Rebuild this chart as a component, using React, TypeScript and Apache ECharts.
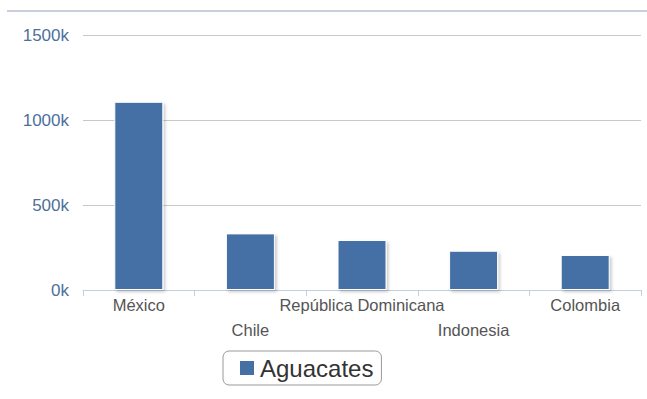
import React, { useEffect, useRef } from "react";
import * as echarts from "echarts";

const categories = ["México", "Chile", "República Dominicana", "Indonesia", "Colombia"];
const seriesName = "Aguacates";
const values = [1107000, 333000, 294000, 231000, 206000];
const yTicks = [0, 500000, 1000000, 1500000];

export default function App() {
  const ref = useRef<HTMLDivElement>(null);
  useEffect(() => {
    if (!ref.current) return;
    const chart = echarts.init(ref.current, undefined, { renderer: "svg" });
    chart.setOption({
      animation: false,
      backgroundColor: "#fff",
      textStyle: { fontFamily: "Liberation Sans, Arial, sans-serif" },
      graphic: [
        {
          type: "line",
          shape: { x1: 7, y1: 11, x2: 647, y2: 11 },
          style: { stroke: "#b4c0cf", lineWidth: 1.5 },
        },
      ],
      grid: { left: 83, right: 6, top: 35, bottom: 109 },
      legend: {
        data: [seriesName],
        left: 223,
        top: 351,
        padding: [5, 8, 5, 15],
        borderColor: "#999",
        borderWidth: 1,
        borderRadius: 6,
        icon: "rect",
        itemWidth: 16,
        itemHeight: 16,
        textStyle: { fontSize: 24, color: "#333" },
      },
      xAxis: {
        type: "category",
        data: categories,
        axisLine: { lineStyle: { color: "#c0d0e0", width: 1 } },
        axisTick: { show: true, length: 6, lineStyle: { color: "#c0d0e0" } },
        axisLabel: {
          interval: 0,
          fontSize: 16.5,
          color: "#555",
          margin: 2,
          lineHeight: 25,
          formatter: (v: string, i: number) => (i % 2 === 1 ? "\n" + v : v),
        },
      },
      yAxis: {
        type: "value",
        min: yTicks[0],
        max: yTicks[yTicks.length - 1],
        interval: 500000,
        axisLine: { show: false },
        axisTick: { show: false },
        splitLine: { lineStyle: { color: "#c8c8c8", width: 1 } },
        axisLabel: {
          fontSize: 17,
          color: "#4d6f9c",
          margin: 14,
          formatter: (v: number) => v / 1000 + "k",
        },
      },
      series: [
        {
          name: seriesName,
          type: "bar",
          data: values,
          barWidth: 49,
          itemStyle: {
            color: "#4470a6",
            borderColor: "#fff",
            borderWidth: 1,
            shadowColor: "rgba(0,0,0,0.2)",
            shadowBlur: 3,
            shadowOffsetX: 2,
            shadowOffsetY: 2,
          },
        },
      ],
    });
    return () => chart.dispose();
  }, []);
  return (
    <div
      ref={ref}
      style={{ position: "absolute", left: 0, top: 0, width: 647, height: 399 }}
    />
  );
}
